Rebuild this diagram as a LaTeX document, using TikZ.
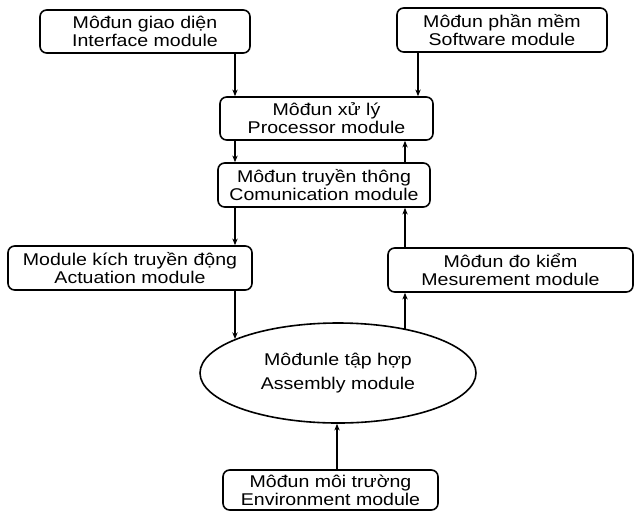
\documentclass[tikz,border=0pt]{standalone}
\usepackage{fontspec}
\setmainfont{Liberation Sans}[FakeStretch=1.15]
\usetikzlibrary{arrows.meta,shapes.geometric}
\tikzset{
  module/.style={draw,rectangle,rounded corners=5pt,align=center,inner sep=0pt,font=\fontsize{12.75}{13.5}\selectfont},
  hub/.style={draw,ellipse,align=center,inner sep=0pt,font=\fontsize{12.75}{18}\selectfont}
}

\begin{document}
\begin{tikzpicture}[x=0.75pt,y=-0.75pt,>={Stealth[length=5pt,width=4pt]},line width=1.2pt]
  \useasboundingbox (0,0) rectangle (634,511);
  \node[module,minimum width=157.5pt,minimum height=32.25pt] (iface) at (145,31.5) {Môđun giao diện\\Interface module};
  \node[module,minimum width=157.5pt,minimum height=33pt] (soft) at (502,30) {Môđun phần mềm\\Software module};
  \node[module,minimum width=159.75pt,minimum height=32.25pt] (proc) at (326.5,118.5) {Môđun xử lý\\Processor module};
  \node[module,minimum width=159pt,minimum height=33pt] (comm) at (324,185) {Môđun truyền thông\\Comunication module};
  \node[module,minimum width=183pt,minimum height=33pt] (act) at (130,268) {Module kích truyền động\\Actuation module};
  \node[module,minimum width=183.75pt,minimum height=33pt] (meas) at (510.5,270) {Môđun đo kiểm\\Mesurement module};
  \node[hub,minimum width=207pt,minimum height=75pt] (ell) at (338,373) {Môđunle tập hợp\\Assembly module};
  \node[module,minimum width=161.25pt,minimum height=30pt] (env) at (330.5,490) {Môđun môi trường\\Environment module};

  \coordinate (cl) at (235,0);
  \coordinate (cr) at (405,0);
  \coordinate (cs) at (418,0);
  \coordinate (ce) at (337,0);
  \coordinate (ml) at (235,339);
  \coordinate (mr) at (405,329);

  \draw[->] (cl |- iface.south) -- (cl |- proc.north);
  \draw[->] (cs |- soft.south) -- (cs |- proc.north);
  \draw[->] (cl |- proc.south) -- (cl |- comm.north);
  \draw[->] (cr |- comm.north) -- (cr |- proc.south);
  \draw[->] (cl |- comm.south) -- (cl |- act.north);
  \draw[->] (cr |- meas.north) -- (cr |- comm.south);
  \draw[->] (cl |- act.south) -- (ml);
  \draw[->] (mr) -- (cr |- meas.south);
  \draw[->] (ce |- env.north) -- (ce |- ell.south);
\end{tikzpicture}
\end{document}
